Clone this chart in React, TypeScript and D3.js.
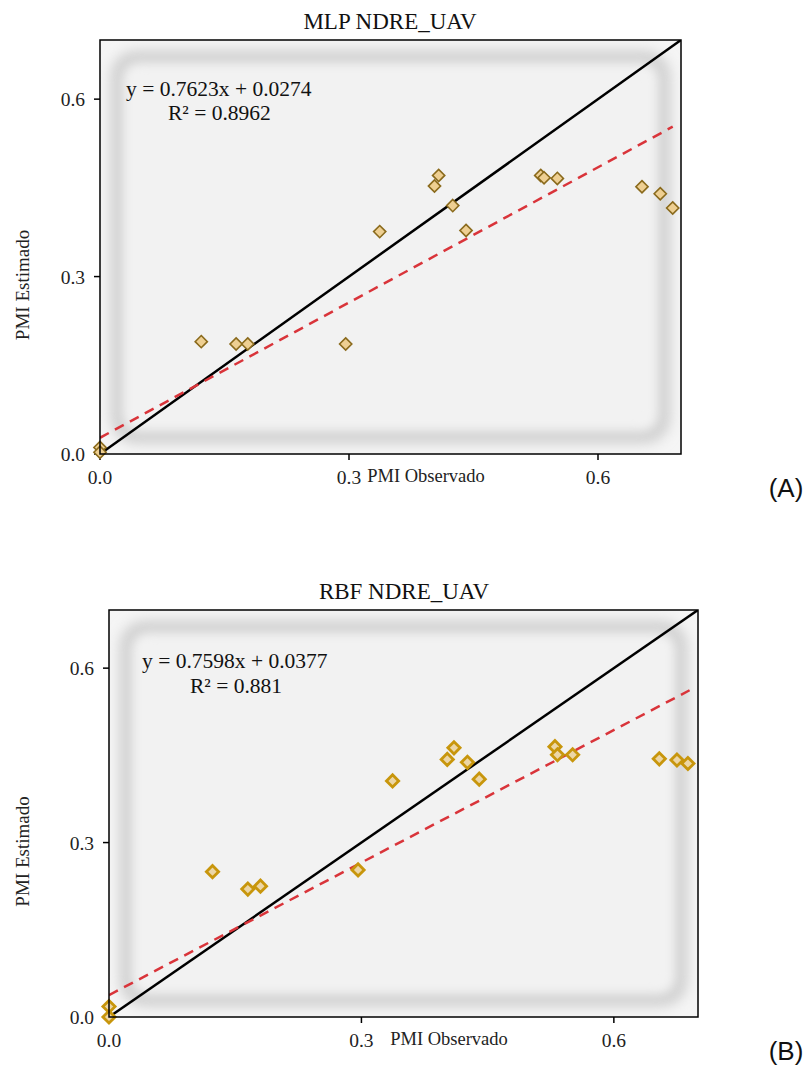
import React from "react";
import * as d3 from "d3";

// MLP (A)
const mlpObs = [0, 0, 0.122, 0.164, 0.178, 0.296, 0.337, 0.403, 0.408, 0.425, 0.441, 0.531, 0.535, 0.551, 0.653, 0.675, 0.69];
const mlpEst = [0.011, 0.003, 0.19, 0.186, 0.186, 0.186, 0.376, 0.453, 0.471, 0.42, 0.378, 0.471, 0.467, 0.466, 0.452, 0.44, 0.416];
// RBF (B)
const rbfObs = [0, 0, 0.123, 0.165, 0.18, 0.296, 0.337, 0.402, 0.41, 0.426, 0.44, 0.53, 0.533, 0.551, 0.654, 0.675, 0.688];
const rbfEst = [0.018, 0.0, 0.25, 0.22, 0.225, 0.253, 0.406, 0.443, 0.463, 0.438, 0.409, 0.465, 0.451, 0.451, 0.444, 0.442, 0.436];

const tickValues = [0, 0.3, 0.6];
const domain: [number, number] = [0, 0.7];

const SERIF = "'Liberation Serif', 'Times New Roman', serif";
const SANS = "'Liberation Sans', Arial, sans-serif";

type PanelProps = {
  id: string;
  title: string;
  xs: number[];
  ys: number[];
  slope: number;
  intercept: number;
  fitEnd: number;
  eq: string;
  r2: string;
  box: { left: number; right: number; top: number; bottom: number };
  eqPos: { x: number; y: number; rx: number; ry: number };
  titleX: number;
  xLabelX: number;
  tag: string;
  fill: string;
  stroke: string;
  strokeW: number;
};

function Panel(p: PanelProps) {
  const { box } = p;
  const x = d3.scaleLinear().domain(domain).range([box.left, box.right]);
  const y = d3.scaleLinear().domain(domain).range([box.bottom, box.top]);
  const w = box.right - box.left;
  const h = box.bottom - box.top;
  const line = d3.line<[number, number]>().x((d) => x(d[0])).y((d) => y(d[1]));
  const diag = line([[0, 0], [0.7, 0.7]]);
  const fit = line([[0, p.intercept], [p.fitEnd, p.slope * p.fitEnd + p.intercept]]);
  const pts = p.xs.map((v, i) => [v, p.ys[i]] as [number, number]);
  const sym = d3.symbol().type(d3.symbolDiamond2).size(95)();

  return (
    <g>
      <defs>
        <filter id={`blur-${p.id}`} x="-10%" y="-10%" width="120%" height="120%">
          <feGaussianBlur stdDeviation="7" />
        </filter>
        <clipPath id={`clip-${p.id}`}>
          <rect x={box.left} y={box.top} width={w} height={h} />
        </clipPath>
      </defs>
      <text x={p.titleX} y={box.top - 11} textAnchor="middle" fontFamily={SERIF} fontSize={23} fill="#111">
        {p.title}
      </text>
      <rect x={box.left} y={box.top} width={w} height={h} fill="#f5f5f5" />
      <g clipPath={`url(#clip-${p.id})`}>
        <rect
          x={box.left + 18}
          y={box.top + 18}
          width={w - 36}
          height={h - 36}
          rx={18}
          fill="none"
          stroke="#c6c6c6"
          strokeWidth={12}
          filter={`url(#blur-${p.id})`}
        />
      </g>
      <rect x={box.left + 27} y={box.top + 27} width={w - 54} height={h - 54} rx={10} fill="#f2f2f2" filter={`url(#blur-${p.id})`} />

      {tickValues.map((t) => (
        <g key={`y${t}`}>
          <line x1={box.left - 6} x2={box.left} y1={y(t)} y2={y(t)} stroke="#000" strokeWidth={1.5} />
          <text x={box.left - 15} y={y(t) + 7} textAnchor="end" fontFamily={SERIF} fontSize={19.5} fill="#222">
            {t.toFixed(1)}
          </text>
          <line x1={x(t)} x2={x(t)} y1={box.bottom} y2={box.bottom + 6} stroke="#000" strokeWidth={1.5} />
          <text x={x(t)} y={box.bottom + 30} textAnchor="middle" fontFamily={SERIF} fontSize={19.5} fill="#222">
            {t.toFixed(1)}
          </text>
        </g>
      ))}

      <text
        transform={`translate(${29},${(box.top + box.bottom) / 2 + 38}) rotate(-90)`}
        textAnchor="middle"
        fontFamily={SERIF}
        fontSize={19}
        fill="#222"
      >
        PMI Estimado
      </text>
      <text x={p.xLabelX + 2} y={box.bottom + 28} textAnchor="middle" fontFamily={SERIF} fontSize={18.5} fill="#222">
        PMI Observado
      </text>

      <g clipPath={`url(#clip-${p.id})`}>
        <path d={diag ?? ""} fill="none" stroke="#000" strokeWidth={2.5} />
        <path d={fit ?? ""} fill="none" stroke="#d9343a" strokeWidth={2.5} strokeDasharray="10 7" />
      </g>
      {pts.map((d, i) => (
        <path
          key={i}
          d={sym ?? ""}
          transform={`translate(${x(d[0])},${y(d[1])})`}
          fill={p.fill}
          stroke={p.stroke}
          strokeWidth={p.strokeW}
        />
      ))}
      <rect x={box.left} y={box.top} width={w} height={h} fill="none" stroke="#000" strokeWidth={1.5} />

      <text x={p.eqPos.x} y={p.eqPos.y} fontFamily={SERIF} fontSize={21.5} fill="#111">
        {p.eq}
      </text>
      <text x={p.eqPos.rx} y={p.eqPos.ry} fontFamily={SERIF} fontSize={21.5} fill="#111">
        {p.r2}
      </text>

      <text x={786} y={box.bottom + 43} textAnchor="middle" fontFamily={SANS} fontSize={26} fill="#111">
        {p.tag}
      </text>
    </g>
  );
}

export default function App() {
  return (
    <div style={{ position: "absolute", left: 0, top: 0 }}>
      <style>{`body{margin:0}`}</style>
      <svg width={808} height={1086} style={{ display: "block", background: "#fff" }}>
        <Panel
          id="a"
          title="MLP NDRE_UAV"
          xs={mlpObs}
          ys={mlpEst}
          slope={0.7623}
          intercept={0.0274}
          fitEnd={0.69}
          eq="y = 0.7623x + 0.0274"
          r2="R² = 0.8962"
          box={{ left: 100, right: 681, top: 40, bottom: 454 }}
          eqPos={{ x: 126, y: 96, rx: 168, ry: 120 }}
          titleX={390}
          xLabelX={424}
          tag="(A)"
          fill="#eecf92"
          stroke="#8a6a1c"
          strokeW={1.6}
        />
        <Panel
          id="b"
          title="RBF NDRE_UAV"
          xs={rbfObs}
          ys={rbfEst}
          slope={0.7598}
          intercept={0.0377}
          fitEnd={0.69}
          eq="y = 0.7598x + 0.0377"
          r2="R² = 0.881"
          box={{ left: 109, right: 698, top: 610, bottom: 1017 }}
          eqPos={{ x: 142, y: 668, rx: 190, ry: 693 }}
          titleX={404}
          xLabelX={447}
          tag="(B)"
          fill="#ecd6a6"
          stroke="#c8960c"
          strokeW={2.8}
        />
      </svg>
    </div>
  );
}
